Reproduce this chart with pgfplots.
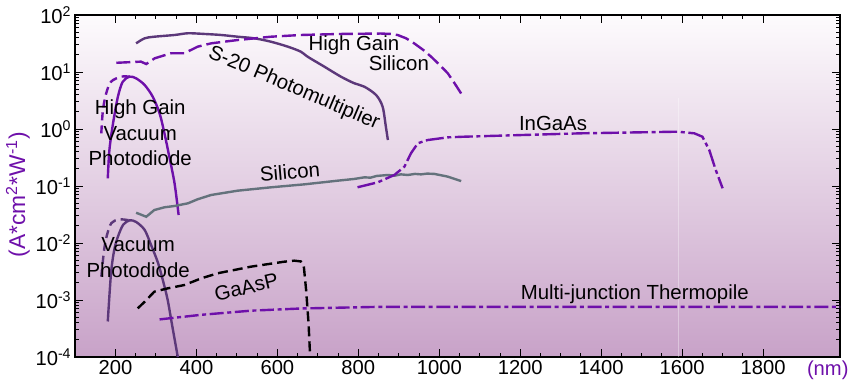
\documentclass[border=0pt]{standalone}
\usepackage{pgfplots}
\pgfplotsset{compat=1.18}
\usepackage{fontspec}
\setmainfont{Liberation Sans}
\definecolor{vpurple}{RGB}{110,16,170}
\definecolor{dpurple}{RGB}{92,56,122}
\definecolor{sigray}{RGB}{100,114,124}
\definecolor{bgtop}{RGB}{253,251,253}
\definecolor{bgbot}{RGB}{200,162,200}
\newcommand{\lf}{\fontsize{10.2}{12.75}\selectfont}
\begin{document}
\begin{tikzpicture}
\useasboundingbox (-37.5pt,-14.5pt) rectangle (387.5pt,178.5pt);
\begin{axis}[
  scale only axis, width=382.5pt, height=171pt,
  at={(0,0)}, anchor=south west,
  xmin=100, xmax=1990, ymode=log, ymin=1e-4, ymax=1e2,
  axis background/.style={top color=bgtop, bottom color=bgbot},
  axis line style={line width=1.2pt},
  tick style={black, line width=0.5pt},
  major tick length=4pt, minor tick length=2pt,
  tick align=inside,
  xtick={200,400,...,1800},
  xticklabels={200,400,600,800,1000,1200,1400,1600,1800},
  minor x tick num=3,
  ytick={1e-4,1e-3,1e-2,1e-1,1,10,100},
  yticklabels={10\textsuperscript{-4},10\textsuperscript{-3},10\textsuperscript{-2},10\textsuperscript{-1},10\textsuperscript{0},10\textsuperscript{1},10\textsuperscript{2}},
  tick label style={font=\fontsize{10.1}{12}\selectfont},
  xticklabel style={inner sep=1.5pt},
  yticklabel style={inner sep=1.5pt},
  xlabel={(nm)},
  xlabel style={at={(axis description cs:0.984,0)}, anchor=north, inner sep=1.5pt, font=\fontsize{10.1}{12}\selectfont, text=vpurple},
  ylabel={(A*cm\textsuperscript{2}*W\textsuperscript{-1})},
  ylabel style={at={(axis description cs:-0.0745,0.475)}, anchor=center, font=\fontsize{11.4}{13}\selectfont, text=vpurple},
]
% faint vertical line
\addplot[white, opacity=0.35, line width=0.4pt] coordinates {(1590,1e-4) (1590,3.5)};

% S-20 Photomultiplier
\addplot[dpurple, line width=1.2pt, smooth] coordinates {
(251,31.8) (272,39) (296,41.6) (346,44.6) (379,47.8) (420,46.5) (461,44.6) (502,41.6)
(543,39) (584,34) (626,27.8) (658,22.7) (675,18.5) (716,12.4) (757,8.28) (790,6.34)
(815,5.52) (844,3.94) (860,2.46) (868,1.10) (873,0.64)};

% High Gain Silicon
\addplot[vpurple, line width=1.2pt, dash pattern=on 7pt off 2.5pt] coordinates {
(202,14.5) (263,15.2) (276,13.8) (297,17.4) (337,21.3) (370,21.3) (403,27.8) (436,31.8)
(502,36.4) (584,41.6) (658,44.6) (757,46.5) (856,47.3) (880,46.5) (897,44.6) (918,39)
(938,31.8) (960,24.5) (980,18.5) (1000,13.5) (1021,9.5) (1038,6.3) (1054,4.2)};

% High Gain Vacuum Photodiode (solid)
\addplot[vpurple, line width=1.2pt, smooth] coordinates {
(181,0.136) (185,0.428) (194,1.26) (206,3.69) (218,6.76) (235,8.28) (251,7.74) (272,5.92)
(292,3.69) (309,1.88) (321,0.84) (333,0.327) (346,0.111) (356,0.031)};
% High Gain Vacuum Photodiode (dashed part)
\addplot[vpurple, line width=1.2pt, dash pattern=on 4pt off 2.5pt, smooth] coordinates {
(165,0.84) (169,2.15) (177,4.2) (189,6.76) (214,8.28) (235,8.28)};

% Vacuum Photodiode (solid)
\addplot[dpurple, line width=1.2pt, smooth] coordinates {
(181,4.2e-4) (189,2.95e-3) (197,7.6e-3) (206,0.0129) (219,0.0209) (235,0.025) (251,0.0234)
(272,0.017) (288,0.0092) (305,0.0045) (318,0.0021) (329,0.001) (340,3.6e-4) (354,1e-4)};
% Vacuum Photodiode (dashed part)
\addplot[dpurple, line width=1.2pt, dash pattern=on 4pt off 2.5pt, smooth] coordinates {
(165,2.57e-3) (172,7.6e-3) (179,0.0138) (190,0.0224) (209,0.026) (235,0.025)};

% Silicon
\addplot[sigray, line width=1.2pt] coordinates {
(251,0.034) (276,0.0289) (296,0.0379) (321,0.0423) (346,0.0446) (379,0.0497) (403,0.0585)
(436,0.0695) (502,0.0828) (584,0.0948) (667,0.107) (749,0.124) (790,0.133) (815,0.142)
(830,0.140) (845,0.150) (873,0.156) (890,0.152) (905,0.160) (922,0.156) (940,0.163)
(955,0.160) (970,0.165) (988,0.163) (1021,0.146) (1054,0.122)};

% InGaAs
\addplot[vpurple, line width=1.2pt, dash pattern=on 9pt off 1.8pt on 2pt off 1.8pt] coordinates {
(798,0.095) (848,0.116) (889,0.156) (914,0.219) (930,0.375) (947,0.562) (971,0.64)
(1021,0.714) (1062,0.733) (1350,0.84) (1589,0.897) (1630,0.84) (1650,0.733) (1667,0.428)
(1683,0.191) (1700,0.0912)};

% GaAsP
\addplot[black, line width=1.2pt, dash pattern=on 5pt off 2.5pt] coordinates {
(255,7.14e-4) (272,9.3e-4) (296,1.4e-3) (329,1.6e-3) (370,1.83e-3) (412,2.4e-3) (453,2.95e-3)
(535,3.85e-3) (617,4.7e-3) (642,4.9e-3) (658,4.75e-3) (665,4.1e-3) (671,1.5e-3)
(677,3.9e-4) (681,1e-4)};

% Multi-junction Thermopile
\addplot[vpurple, line width=1.2pt, dash pattern=on 7pt off 1.8pt on 2pt off 1.8pt] coordinates {
(309,4.57e-4) (412,5.5e-4) (535,6.5e-4) (658,7.1e-4) (856,7.6e-4) (1200,7.6e-4) (1600,7.6e-4) (1990,7.6e-4)};

% labels
\node[font=\lf, align=center] at (axis cs:261,0.85) {High Gain\\Vacuum\\Photodiode};
\node[font=\lf, align=center] at (axis cs:256,5.6e-3) {Vacuum\\Photodiode};
\node[font=\lf, rotate=-23] at (axis cs:641,5.14) {S-20 Photomultiplier};
\node[font=\lf] at (axis cs:789,29.8) {High Gain};
\node[font=\lf] at (axis cs:900,14.4) {Silicon};
\node[font=\lf, rotate=5] at (axis cs:631,0.176) {Silicon};
\node[font=\lf] at (axis cs:1281,1.27) {InGaAs};
\node[font=\lf, rotate=13] at (axis cs:523,1.69e-3) {GaAsP};
\node[font=\lf] at (axis cs:1483,1.27e-3) {Multi-junction Thermopile};
\end{axis}
\end{tikzpicture}
\end{document}
